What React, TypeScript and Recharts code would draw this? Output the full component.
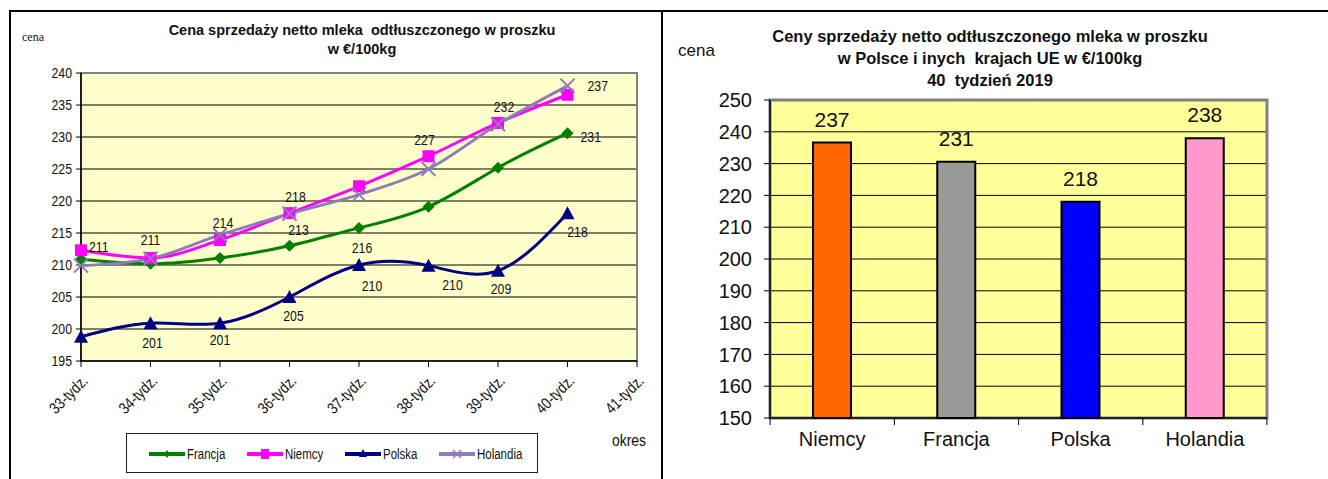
import React from "react";
import {
  LineChart,
  Line,
  BarChart,
  Bar,
  Cell,
  XAxis,
  YAxis,
  CartesianGrid,
  ReferenceArea,
  LabelList,
} from "recharts";

const weeks = ["33-tydz.", "34-tydz.", "35-tydz.", "36-tydz.", "37-tydz.", "38-tydz.", "39-tydz.", "40-tydz.", "41-tydz."];
const francja = [210.9, 210.2, 211.1, 213.0, 215.8, 219.1, 225.2, 230.6, null];
const niemcy = [212.3, 211.1, 213.9, 218.1, 222.3, 227.0, 232.2, 236.6, null];
const polska = [198.8, 200.9, 200.9, 205.0, 210.0, 209.9, 209.1, 218.1, null];
const holandia = [209.9, 211.0, 214.7, 218.0, 221.0, 225.0, 232.0, 238.0, null];
const lineTicks = [195, 200, 205, 210, 215, 220, 225, 230, 235, 240];

const countries = ["Niemcy", "Francja", "Polska", "Holandia"];
const week40 = [236.6, 230.6, 218.0, 238.0];
const barTicks = [150, 160, 170, 180, 190, 200, 210, 220, 230, 240, 250];

const lineData = weeks.map((w, i) => ({
  week: w,
  Francja: francja[i],
  Niemcy: niemcy[i],
  Polska: polska[i],
  Holandia: holandia[i],
}));
const barData = countries.map((c, i) => ({ name: c, value: week40[i] }));
const barColors = ["#FF6600", "#999999", "#0000FF", "#FF99CC"];

const ARIAL = "'Liberation Sans', Arial, sans-serif";
const SQUEEZE = 0.82; // fake Arial Narrow

const COLORS = { Francja: "#008000", Niemcy: "#FF00FF", Polska: "#000080", Holandia: "#8F7DB8" };

// which points carry a value label, and where it sits relative to the marker
type Place = { dx: number; dy: number; anchor: "start" | "middle" | "end" };
const labelPlaces: Record<string, Record<number, Place>> = {
  Francja: {
    0: { dx: 8, dy: -12, anchor: "start" },
    3: { dx: 9, dy: -16, anchor: "middle" },
    4: { dx: 3, dy: 20, anchor: "middle" },
    7: { dx: 13, dy: 4, anchor: "start" },
  },
  Niemcy: {
    1: { dx: 0, dy: -18, anchor: "middle" },
    2: { dx: 3, dy: -17, anchor: "middle" },
    3: { dx: 6, dy: -16, anchor: "middle" },
    5: { dx: -4, dy: -16, anchor: "middle" },
    6: { dx: 6, dy: -16, anchor: "middle" },
    7: { dx: 20, dy: -9, anchor: "start" },
  },
  Polska: {
    1: { dx: 2, dy: 20, anchor: "middle" },
    2: { dx: 0, dy: 17, anchor: "middle" },
    3: { dx: 4, dy: 19, anchor: "middle" },
    4: { dx: 13, dy: 21, anchor: "middle" },
    5: { dx: 24, dy: 19, anchor: "middle" },
    6: { dx: 3, dy: 18, anchor: "middle" },
    7: { dx: 10, dy: 19, anchor: "middle" },
  },
  Holandia: {},
};

function NText({ x, y, anchor, size, rotate, children }: any) {
  const rot = rotate ? ` rotate(${rotate})` : "";
  return (
    <text
      transform={`translate(${x},${y})${rot} scale(${SQUEEZE},1)`}
      textAnchor={anchor}
      dominantBaseline="central"
      fontSize={size}
      fontFamily={ARIAL}
      fill="#111"
    >
      {children}
    </text>
  );
}

function marker(name: string, cx: number, cy: number) {
  const c = COLORS[name as keyof typeof COLORS];
  if (name === "Francja") {
    return <polygon points={`${cx},${cy - 6} ${cx + 6},${cy} ${cx},${cy + 6} ${cx - 6},${cy}`} fill={c} />;
  }
  if (name === "Niemcy") {
    return <rect x={cx - 6} y={cy - 6} width={12} height={12} fill={c} />;
  }
  if (name === "Polska") {
    return <polygon points={`${cx},${cy - 7} ${cx + 7},${cy + 6} ${cx - 7},${cy + 6}`} fill={c} />;
  }
  return (
    <g stroke={c} strokeWidth={2}>
      <line x1={cx - 7} y1={cy - 7} x2={cx + 7} y2={cy + 7} />
      <line x1={cx - 7} y1={cy + 7} x2={cx + 7} y2={cy - 7} />
    </g>
  );
}

function makeDot(name: string) {
  return (props: any) => {
    const { cx, cy, index, payload } = props;
    if (cx == null || cy == null || payload[name] == null) return <g key={`${name}-${index}`} />;
    const place = labelPlaces[name][index];
    return (
      <g key={`${name}-${index}`}>
        {marker(name, cx, cy)}
        {place && (
          <NText x={cx + place.dx} y={cy + place.dy} anchor={place.anchor} size={15}>
            {Math.round(payload[name])}
          </NText>
        )}
      </g>
    );
  };
}

const WeekTick = (props: any) => {
  const { x, y, payload } = props;
  return (
    <NText x={x + 4} y={y + 9} anchor="end" size={16} rotate={-45}>
      {payload.value}
    </NText>
  );
};

const PriceTick = (props: any) => {
  const { x, y, payload } = props;
  return (
    <NText x={x} y={y} anchor="end" size={15}>
      {payload.value}
    </NText>
  );
};

const CountryTick = (props: any) => {
  const { x, y, payload, index } = props;
  const half = 62;
  return (
    <g>
      <line x1={x - half} y1={y - 8} x2={x - half} y2={y - 1} stroke="#000" />
      {index === countries.length - 1 && <line x1={x + half} y1={y - 8} x2={x + half} y2={y - 1} stroke="#000" />}
      <text x={x} y={y + 20} textAnchor="middle" fontSize={20} fontFamily={ARIAL} fill="#111">
        {payload.value}
      </text>
    </g>
  );
};

const legendItems = ["Francja", "Niemcy", "Polska", "Holandia"];
const legendX = [22, 120, 218, 312];

function LegendIcon({ name }: { name: string }) {
  const c = COLORS[name as keyof typeof COLORS];
  return (
    <svg width={36} height={12} style={{ display: "block" }}>
      <line x1={0} y1={6} x2={36} y2={6} stroke={c} strokeWidth={4} />
      {name === "Niemcy" && <rect x={14} y={1} width={8} height={10} fill={c} />}
      {name === "Francja" && <polygon points="18,2 21,6 18,10 15,6" fill={c} />}
      {name === "Polska" && <polygon points="18,1 22,9 14,9" fill={c} />}
      {name === "Holandia" && (
        <g stroke={c} strokeWidth={1.5}>
          <line x1={14} y1={2} x2={22} y2={10} />
          <line x1={14} y1={10} x2={22} y2={2} />
        </g>
      )}
    </svg>
  );
}

const narrowSpan: React.CSSProperties = {
  display: "inline-block",
  transform: `scaleX(${SQUEEZE})`,
  transformOrigin: "left center",
};

export default function App() {
  return (
    <div style={{ position: "absolute", left: 0, top: 0, width: 1328, height: 479, background: "#fff", overflow: "hidden" }}>
      {/* table frame */}
      <div style={{ position: "absolute", left: 9, top: 10, width: 1319, height: 2, background: "#000" }} />
      <div style={{ position: "absolute", left: 9, top: 10, width: 2, height: 469, background: "#000" }} />
      <div style={{ position: "absolute", left: 661, top: 10, width: 2, height: 469, background: "#000" }} />

      {/* left chart */}
      <div style={{ position: "absolute", left: 0, top: 0 }}>
        <LineChart width={660} height={479} data={lineData} margin={{ top: 73, right: 23, bottom: 58, left: 41 }}>
          <CartesianGrid vertical={false} stroke="#000" fill="#FFFFCC" fillOpacity={1} />
          <ReferenceArea y1={195} y2={240} fill="none" stroke="#808080" strokeWidth={2} ifOverflow="visible" />
          <XAxis
            dataKey="week"
            interval={0}
            height={60}
            axisLine={{ stroke: "#000", strokeWidth: 1.5 }}
            tickLine={{ stroke: "#000" }}
            tickSize={6}
            tick={<WeekTick />}
          />
          <YAxis
            width={40}
            domain={[195, 240]}
            ticks={lineTicks}
            interval={0}
            axisLine={{ stroke: "#000", strokeWidth: 1.5 }}
            tickLine={{ stroke: "#000" }}
            tickSize={5}
            tickMargin={4}
            tick={<PriceTick />}
          />
          <Line type="natural" dataKey="Francja" stroke={COLORS.Francja} strokeWidth={3} dot={makeDot("Francja")} isAnimationActive={false} />
          <Line type="monotone" dataKey="Niemcy" stroke={COLORS.Niemcy} strokeWidth={3} dot={makeDot("Niemcy")} isAnimationActive={false} />
          <Line type="natural" dataKey="Polska" stroke={COLORS.Polska} strokeWidth={3} dot={makeDot("Polska")} isAnimationActive={false} />
          <Line type="monotone" dataKey="Holandia" stroke={COLORS.Holandia} strokeWidth={3} dot={makeDot("Holandia")} isAnimationActive={false} />
        </LineChart>
      </div>
      <div style={{ position: "absolute", left: 22, top: 30, fontFamily: "'Liberation Serif', 'Times New Roman', serif", fontSize: 12, color: "#111" }}>
        cena
      </div>
      <div style={{ position: "absolute", left: 112, top: 21, width: 500, textAlign: "center", fontFamily: ARIAL, fontWeight: "bold", fontSize: 14.5, lineHeight: "19px", color: "#111" }}>
        Cena sprzedaży netto mleka&nbsp; odtłuszczonego w proszku
        <br />w €/100kg
      </div>
      <div style={{ position: "absolute", left: 612, top: 431, fontFamily: ARIAL, fontSize: 17, color: "#111" }}>
        <span style={narrowSpan}>okres</span>
      </div>
      <div style={{ position: "absolute", left: 126, top: 433, width: 410, height: 38, border: "1px solid #222" }}>
        {legendItems.map((n, i) => (
          <div key={n} style={{ position: "absolute", left: legendX[i], top: 12, display: "flex", alignItems: "center", fontFamily: ARIAL, fontSize: 14, color: "#111" }}>
            <LegendIcon name={n} />
            <span style={{ ...narrowSpan, marginLeft: 2 }}>{n}</span>
          </div>
        ))}
      </div>

      {/* right chart */}
      <div style={{ position: "absolute", left: 662, top: 0 }}>
        <BarChart width={666} height={479} data={barData} margin={{ top: 100, right: 61, bottom: 21, left: 58 }}>
          <CartesianGrid vertical={false} stroke="#000" fill="#FFFF99" fillOpacity={1} />
          <ReferenceArea y1={150} y2={250} fill="none" stroke="#808080" strokeWidth={3} ifOverflow="visible" />
          <XAxis
            dataKey="name"
            interval={0}
            height={40}
            axisLine={{ stroke: "#000", strokeWidth: 1.5 }}
            tickLine={false}
            tick={<CountryTick />}
          />
          <YAxis
            width={50}
            domain={[150, 250]}
            ticks={barTicks}
            interval={0}
            axisLine={{ stroke: "#000", strokeWidth: 1.5 }}
            tickLine={{ stroke: "#000" }}
            tickSize={6}
            tickMargin={12}
            tick={{ fontSize: 20, fontFamily: ARIAL, fill: "#111" }}
          />
          <Bar dataKey="value" barSize={38} stroke="#000" strokeWidth={2} isAnimationActive={false}>
            {barData.map((d, i) => (
              <Cell key={d.name} fill={barColors[i]} />
            ))}
            <LabelList
              dataKey="value"
              position="top"
              offset={16}
              formatter={(v: any) => Math.round(Number(v))}
              style={{ fontSize: 21, fontFamily: ARIAL, fill: "#111" }}
            />
          </Bar>
        </BarChart>
      </div>
      <div style={{ position: "absolute", left: 678, top: 41, fontFamily: ARIAL, fontSize: 17, color: "#111" }}>cena</div>
      <div style={{ position: "absolute", left: 740, top: 25, width: 500, textAlign: "center", fontFamily: ARIAL, fontWeight: "bold", fontSize: 16.5, lineHeight: "22px", color: "#111" }}>
        Ceny sprzedaży netto odtłuszczonego mleka w proszku
        <br />w Polsce i inych&nbsp; krajach UE w €/100kg
        <br />40&nbsp; tydzień 2019
      </div>
    </div>
  );
}
